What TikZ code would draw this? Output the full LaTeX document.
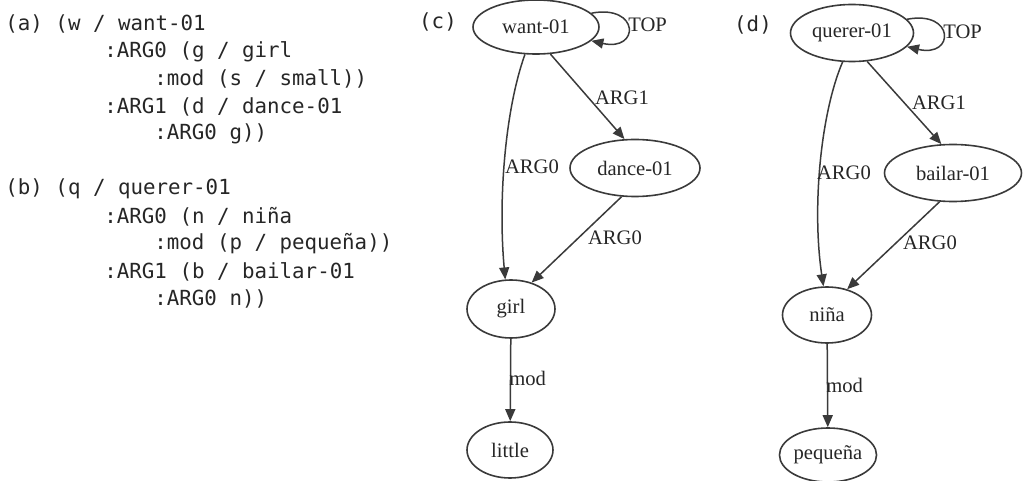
\documentclass[tikz,border=0pt]{standalone}
\usepackage{fontspec}
\setmainfont{Liberation Serif}
\setmonofont{DejaVu Sans Mono}
\usetikzlibrary{shapes.geometric,arrows.meta}

\definecolor{inkgray}{HTML}{3A3A3A}
\definecolor{codegray}{HTML}{262626}

\tikzset{
  amr/.style={draw=inkgray, line width=0.8pt, ellipse, inner sep=0pt, text=black!85,
    font=\fontsize{10.3}{12}\selectfont},
  rel/.style={-{Triangle[length=6pt,width=5pt]}, draw=inkgray, line width=0.75pt},
  lbl/.style={inner sep=0pt, text=black!85, font=\fontsize{10.3}{12}\selectfont},
  code/.style={anchor=west, inner sep=0pt, text=codegray,
    font=\ttfamily\fontsize{10.4}{13}\selectfont},
  panel/.style={inner sep=0pt, text=codegray, font=\ttfamily\fontsize{10.4}{13}\selectfont}
}

\begin{document}
\begin{tikzpicture}[x=0.5pt, y=-0.5pt]
  \useasboundingbox (0,0) rectangle (1025,481);

  % (a) English AMR
  \node[code] (a1) at (5,24) {(a) (w / want-01};
  \node[code] (a2) at (104,51.5) {:ARG0 (g / girl};
  \node[code] (a3) at (154,79) {:mod (s / small))};
  \node[code] (a4) at (104,106.5) {:ARG1 (d / dance-01};
  \node[code] (a5) at (154,134) {:ARG0 g))};

  % (b) Spanish AMR
  \node[code] (b1) at (5,189) {(b) (q / querer-01};
  \node[code] (b2) at (104,216.5) {:ARG0 (n / niña};
  \node[code] (b3) at (154,244) {:mod (p / pequeña))};
  \node[code] (b4) at (104,271.5) {:ARG1 (b / bailar-01};
  \node[code] (b5) at (154,299) {:ARG0 n))};

  % (c) English graph
  \node[panel] (c) at (438,22) {(c)};
  \node[amr, minimum width=63pt, minimum height=27pt] (want) at (536,27) {want-01};
  \node[amr, minimum width=65pt, minimum height=28.5pt] (dance) at (635,168) {dance-01};
  \node[amr, minimum width=44pt, minimum height=29pt] (girl) at (511,309) {girl};
  \node[amr, minimum width=43pt, minimum height=28pt] (little) at (510,450) {little};

  \draw[rel] (want.14) .. controls (640,4) and (640,52) .. (want.-14);
  \node[lbl, anchor=west] (ctop) at (628,25) {TOP};
  \draw[rel] (want.-62) -- (dance.110);
  \node[lbl] (carg1) at (622,98) {ARG1};
  \draw[rel] (want.-112) .. controls (505,110) and (498,200) .. (girl.101);
  \node[lbl] (carg0) at (532,167) {ARG0};
  \draw[rel] (dance.-115) -- (girl.52);
  \node[lbl] (carg0b) at (615,238) {ARG0};
  \draw[rel] (girl) -- (little);
  \node[lbl, anchor=west] (cmod) at (509,378) {mod};

  % (d) Spanish graph
  \node[panel] (d) at (753,25) {(d)};
  \node[amr, minimum width=61.5pt, minimum height=28.5pt] (querer) at (852,33) {querer-01};
  \node[amr, minimum width=68.5pt, minimum height=28.5pt] (bailar) at (953,173) {bailar-01};
  \node[amr, minimum width=44.5pt, minimum height=28pt] (nina) at (827,315) {niña};
  \node[amr, minimum width=43pt, minimum height=27pt] (pequena) at (828,455) {pequeña};

  \draw[rel] (querer.14) .. controls (955,10) and (955,58) .. (querer.-14);
  \node[lbl, anchor=west] (dtop) at (943,32) {TOP};
  \draw[rel] (querer.-62) -- (bailar.112);
  \node[lbl] (darg1) at (939,103) {ARG1};
  \draw[rel] (querer.-108) .. controls (820,115) and (812,210) .. (nina.97);
  \node[lbl] (darg0) at (844,173) {ARG0};
  \draw[rel] (bailar.-115) -- (nina.52);
  \node[lbl] (darg0b) at (930,243) {ARG0};
  \draw[rel] (nina) -- (pequena);
  \node[lbl, anchor=west] (dmod) at (826,385) {mod};
\end{tikzpicture}
\end{document}
